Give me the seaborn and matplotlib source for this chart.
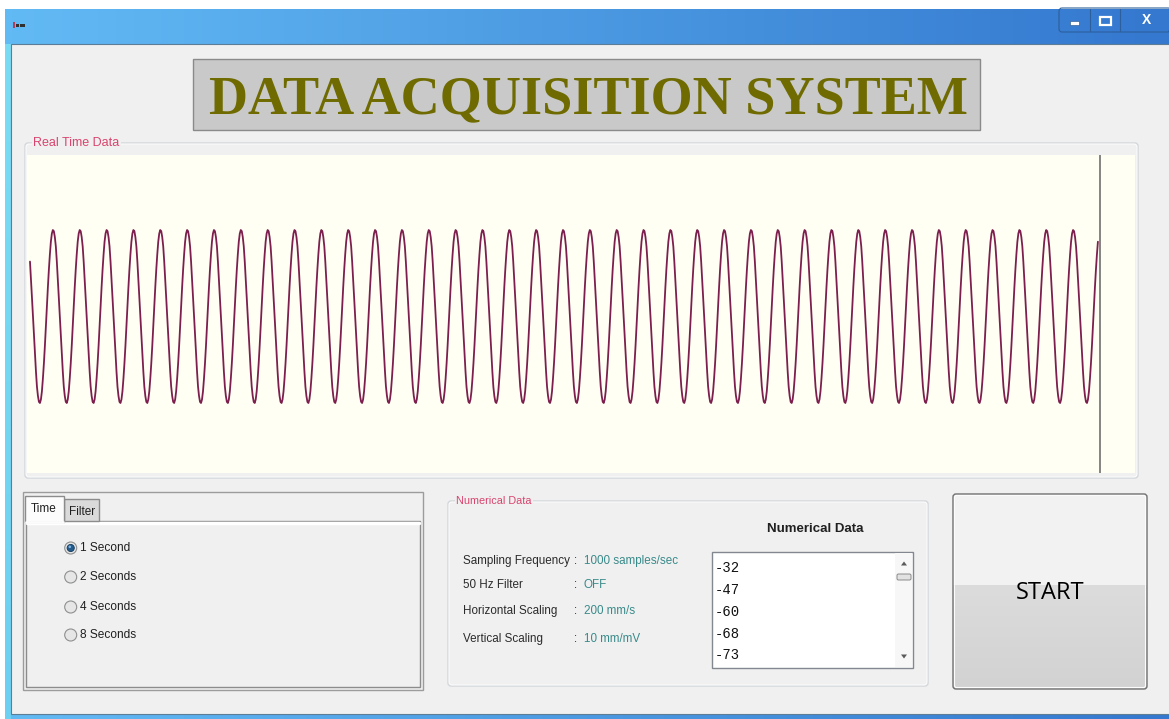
import numpy as np
import pandas as pd
import matplotlib
matplotlib.use("Agg")
import matplotlib.pyplot as plt
import seaborn as sns
from matplotlib.patches import Rectangle, FancyBboxPatch, Circle, Polygon
from matplotlib.colors import LinearSegmentedColormap

# one period of the trace (ADC counts), starting at the left edge
cycle_samples = [47, 32, 16, 0, -16, -32, -47, -60, -68, -73, -74, -71, -64, -53,
                 -40, -25, -8, 8, 25, 40, 53, 64, 71, 74, 73, 68, 60]
n_samples = 1075

listbox_values = [-32, -47, -60, -68, -73]
time_options = ["1 Second", "2 Seconds", "4 Seconds", "8 Seconds"]
selected_option = "1 Second"
tab_names = ["Time", "Filter"]
info_labels = ["Sampling Frequency", "50 Hz Filter", "Horizontal Scaling", "Vertical Scaling"]
info_values = ["1000 samples/sec", "OFF", "200 mm/s", "10 mm/mV"]

W, H = 1169, 719
UI_FONT = ["Liberation Sans", "DejaVu Sans"]
PINK = "#D9446E"
TEAL = "#3A8A8A"


def rect(ax, x0, y0, x1, y1, fc="none", ec="none", lw=1.0, z=1, r=0):
    if r:
        p = FancyBboxPatch((x0, y0), x1 - x0, y1 - y0, boxstyle=f"round,pad=0,rounding_size={r}",
                           fc=fc, ec=ec, lw=lw, zorder=z)
    else:
        p = Rectangle((x0, y0), x1 - x0, y1 - y0, fc=fc, ec=ec, lw=lw, zorder=z)
    ax.add_patch(p)
    return p


def gradient(ax, x0, y0, x1, y1, c0, c1, horizontal=True, z=1):
    cmap = LinearSegmentedColormap.from_list("g", [c0, c1])
    g = np.linspace(0, 1, 256)
    img = g[None, :] if horizontal else g[:, None]
    ax.imshow(img, cmap=cmap, extent=[x0, x1, y1, y0], aspect="auto", zorder=z, interpolation="bilinear")


def group_box(ax, x0, y0, x1, y1, label, size):
    rect(ax, x0, y0, x1, y1, ec="#D3D7DA", lw=1.0, z=3, r=3)
    rect(ax, x0 + 1, y0 + 1, x1 - 1, y1 - 1, ec="#FFFFFF", lw=0.6, z=3, r=3)
    ax.text(x0 + 8, y0, label, color=PINK, fontsize=size, family=UI_FONT, va="center", ha="left",
            zorder=5, bbox=dict(fc="#F0F0F0", ec="none", pad=1.0))


def draw_window(ax):
    gradient(ax, 5, 9, W, H, "#62BAF4", "#3478CF", z=1)
    gradient(ax, 5, 44, 11, H, "#7ADCF4", "#6CD0F2", horizontal=False, z=2)
    rect(ax, 11, 44, W + 2, 714, fc="#F0F0F0", ec="#5D7C96", lw=0.8, z=2)
    # small application icon in the title bar
    rect(ax, 13, 22, 15, 28, fc="#B04060", z=3)
    rect(ax, 16, 24, 19, 27, fc="#303030", z=3)
    rect(ax, 20, 24, 25, 27, fc="#303030", z=3)
    # caption buttons
    rect(ax, 1059, 8, W + 2, 32, ec="#2C5F9C", lw=0.8, z=3, r=3)
    for x in (1090, 1120):
        ax.plot([x, x], [9, 31], color="#2C5F9C", lw=0.8, zorder=3)
    rect(ax, 1070, 21, 1079, 24.5, fc="white", ec="#1F4E85", lw=0.4, z=4)
    rect(ax, 1100, 17, 1111, 25, fc="none", ec="white", lw=1.6, z=4)
    ax.text(1146, 20, "X", color="white", fontsize=10, fontweight="bold", ha="center", va="center",
            family=UI_FONT, zorder=4)


def draw_title(ax):
    rect(ax, 193, 59, 980, 130, fc="#C9C9C9", ec="#8A8A8A", lw=1.0, z=3)
    ax.text(588, 113, "DATA ACQUISITION SYSTEM", color="#6F6B00", fontsize=39, fontweight="bold",
            family=["Liberation Serif", "DejaVu Serif"], ha="center", va="baseline", zorder=4)


def draw_time_panel(ax):
    rect(ax, 23, 492, 423, 690, ec="#9C9C9C", lw=1.0, z=3)
    rect(ax, 26, 521, 420, 687, fc="#F0F0F0", ec="#8C8C8C", lw=1.0, z=3)
    ax.plot([27, 419], [523, 523], color="white", lw=2.5, zorder=3)
    rect(ax, 64, 499, 99, 521, fc="#DADADA", ec="#8C8C8C", lw=1.0, z=3)
    rect(ax, 25, 496, 64, 522, fc="#FCFCFC", ec="#8C8C8C", lw=1.0, z=4)
    ax.plot([25.8, 63.2], [522, 522], color="#FCFCFC", lw=2, zorder=4)
    ax.text(44, 509, tab_names[0], fontsize=8.5, family=UI_FONT, color="#202020",
            ha="center", va="center", zorder=5)
    ax.text(82, 512, tab_names[1], fontsize=8.5, family=UI_FONT, color="#202020",
            ha="center", va="center", zorder=5)

    rows_y = [548, 577, 607, 635]
    for label, y in zip(time_options, rows_y):
        ax.add_patch(Circle((70.7, y), 6, fc="#E6E6E6", ec="#8E8F8F", lw=0.8, zorder=4))
        if label == selected_option:
            ax.add_patch(Circle((70.7, y), 3.6, fc="#235C8C", ec="#123A5C", lw=0.6, zorder=5))
            ax.add_patch(Circle((69.8, y - 1.2), 1.3, fc="#7FB5DE", ec="none", zorder=6))
        ax.text(80, y, label, fontsize=8.6, family=UI_FONT, color="#202020",
                ha="left", va="center", zorder=5)


def draw_numeric_panel(ax):
    group_box(ax, 448, 501, 928, 686, "Numerical Data", 7.8)
    ax.text(815, 529, "Numerical Data", fontsize=9.5, fontweight="bold", family=UI_FONT,
            color="#202020", ha="center", va="center", zorder=5)
    rows_y = [561, 585, 611, 639]
    for label, value, y in zip(info_labels, info_values, rows_y):
        ax.text(463, y, label, fontsize=8.4, family=UI_FONT, color="#2B2B2B", ha="left", va="center", zorder=5)
        ax.text(576, y, ":", fontsize=8.4, family=UI_FONT, color="#2B2B2B", ha="center", va="center", zorder=5)
        ax.text(584, y, value, fontsize=8.4, family=UI_FONT, color=TEAL, ha="left", va="center", zorder=5)

    # list box with scroll bar
    rect(ax, 712, 552, 913, 668, fc="white", ec="#828790", lw=1.0, z=4)
    rect(ax, 895, 553, 912, 667, fc="#F7F7F7", ec="none", z=4)
    ax.add_patch(Polygon([[901, 565.5], [907, 565.5], [904, 561.5]], fc="#5A5A5A", ec="none", zorder=5))
    ax.add_patch(Polygon([[901, 654.5], [907, 654.5], [904, 658.5]], fc="#5A5A5A", ec="none", zorder=5))
    rect(ax, 897, 574, 911, 580, fc="#E2E2E2", ec="#8A8A8A", lw=0.7, z=5, r=1.5)
    list_y = [568, 590, 612, 634, 655]
    for v, y in zip(listbox_values, list_y):
        ax.text(715, y, f"{v}", fontsize=10, family=["Liberation Mono", "DejaVu Sans Mono"],
                color="#111111", ha="left", va="center", zorder=5)


def draw_start_button(ax):
    rect(ax, 953, 494, 1147, 585, fc="#F2F2F2", z=3)
    gradient(ax, 953, 585, 1147, 689, "#DCDCDC", "#D2D2D2", horizontal=False, z=3)
    rect(ax, 953, 494, 1147, 689, ec="#707070", lw=1.0, z=4, r=3)
    rect(ax, 954.5, 495.5, 1145.5, 687.5, ec="#FCFCFC", lw=0.8, z=4, r=2)
    ax.text(1050, 593, "START", fontsize=17, family=["Open Sans", "DejaVu Sans"], color="#000000",
            fontweight="medium", ha="center", va="center", zorder=5)


def draw_signal(fig):
    signal = np.tile(cycle_samples, n_samples // len(cycle_samples) + 1)[:n_samples]
    df = pd.DataFrame({"sample": np.arange(n_samples), "value": signal})
    ax = fig.add_axes([27 / W, 1 - 473 / H, (1135 - 27) / W, (473 - 155) / H])
    ax.set_facecolor("#FFFFF3")
    sns.lineplot(data=df, x="sample", y="value", ax=ax, color="#7D1F4E", linewidth=1.3)
    ax.axvline(n_samples + 0.8, color="#707070", lw=1.2)
    ax.set_xlim(-3.0, 1111.3)
    ax.set_ylim(-133.9, 138.2)
    ax.set_xticks([])
    ax.set_yticks([])
    ax.set_xlabel("")
    ax.set_ylabel("")
    for s in ax.spines.values():
        s.set_visible(False)


def main() -> None:
    sns.set_style("white")
    fig = plt.figure(figsize=(W / 100, H / 100), dpi=100)
    fig.patch.set_facecolor("white")
    ax = fig.add_axes([0, 0, 1, 1])
    ax.set_axis_off()

    draw_window(ax)
    draw_title(ax)
    group_box(ax, 25, 143, 1138, 478, "Real Time Data", 9)
    draw_time_panel(ax)
    draw_numeric_panel(ax)
    draw_start_button(ax)

    ax.set_xlim(0, W)
    ax.set_ylim(H, 0)
    draw_signal(fig)

    fig.savefig("out.png", dpi=100, facecolor="white")
    plt.close(fig)


if __name__ == "__main__":
    main()
